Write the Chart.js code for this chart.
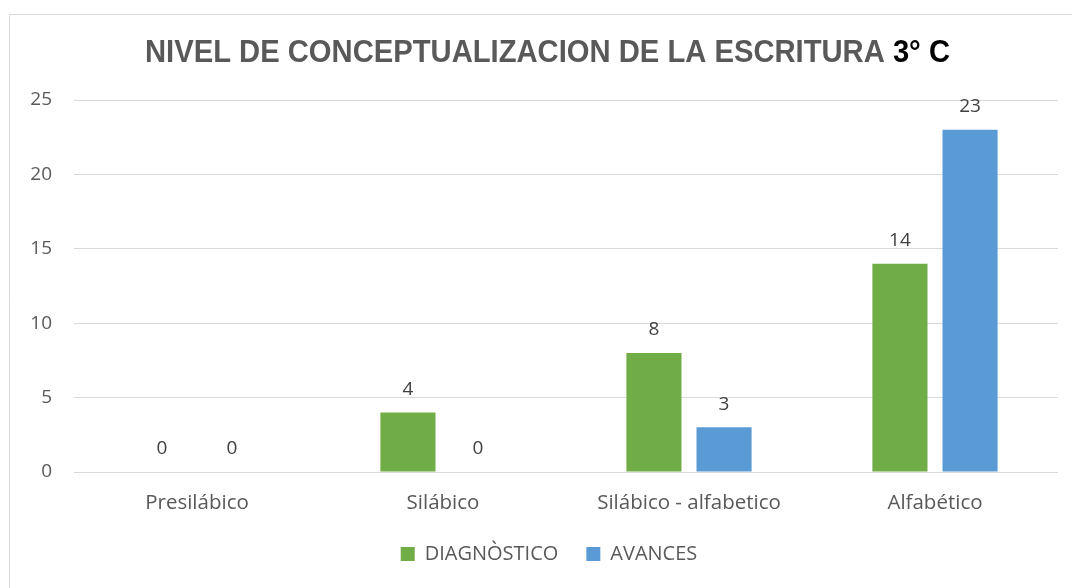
<!DOCTYPE html>
<html>
<head>
<meta charset="utf-8">
<script src="https://cdn.jsdelivr.net/npm/chart.js@4.4.1/dist/chart.umd.min.js"></script>
<style>
  html, body { margin: 0; padding: 0; background: #fff; }
  #wrap { width: 1072px; height: 588px; position: relative; }
</style>
</head>
<body>
<div id="wrap"><canvas id="chart"></canvas></div>
<script>
const categories = ['Presilábico', 'Silábico', 'Silábico - alfabetico', 'Alfabético'];
const diagnostico = [0, 4, 8, 14];
const avances = [0, 0, 3, 23];
const seriesNames = ['DIAGNÒSTICO', 'AVANCES'];
const titleMain = 'NIVEL DE CONCEPTUALIZACION DE LA ESCRITURA ';
const titleBold = '3° C';

const FONT = '"Open Sans", "Noto Sans", sans-serif';
const TEXT = '#595959';

// frame lines (left + top) like the Excel chart box
const framePlugin = {
    id: 'frame',
    beforeDraw(chart) {
        const ctx = chart.ctx;
        ctx.save();
        ctx.strokeStyle = '#d9d9d9';
        ctx.lineWidth = 1;
        ctx.beginPath();
        ctx.moveTo(9.5, chart.height);
        ctx.lineTo(9.5, 14.5);
        ctx.lineTo(chart.width, 14.5);
        ctx.stroke();
        ctx.restore();
    },
};

// the legend in the original is centred on the whole chart box, a bit right of ours
const legendShift = {
    id: 'legendShift',
    afterLayout(chart) {
        if (chart.legend) {
            chart.legend.left += 20;
            chart.legend.right += 20;
        }
    },
};

// two-colour title, squeezed horizontally like the narrow original
const titlePlugin = {
    id: 'twoToneTitle',
    afterDraw(chart) {
        const ctx = chart.ctx;
        ctx.save();
        ctx.font = 'bold 31px "Liberation Sans", Arial, sans-serif';
        ctx.textBaseline = 'middle';
        const w1 = ctx.measureText(titleMain).width;
        const w2 = ctx.measureText(titleBold).width;
        const sx = 805 / (w1 + w2);
        ctx.translate(145, 53);
        ctx.scale(sx, 1);
        ctx.fillStyle = TEXT;
        ctx.fillText(titleMain, 0, 0);
        ctx.fillStyle = '#000';
        ctx.fillText(titleBold, w1, 0);
        ctx.restore();
    },
};

const valueLabels = {
    id: 'valueLabels',
    afterDatasetsDraw(chart) {
        const ctx = chart.ctx;
        ctx.save();
        ctx.font = '19px ' + FONT;
        ctx.fillStyle = '#404040';
        ctx.textAlign = 'center';
        ctx.textBaseline = 'middle';
        chart.data.datasets.forEach((ds, i) => {
            chart.getDatasetMeta(i).data.forEach((bar, j) => {
                ctx.fillText(ds.data[j], bar.x, bar.y - 23);
            });
        });
        ctx.restore();
    },
};

new Chart(document.getElementById('chart'), {
    type: 'bar',
    data: {
        labels: categories,
        datasets: [
            { label: seriesNames[0], data: diagnostico, backgroundColor: '#70ad47' },
            { label: seriesNames[1], data: avances, backgroundColor: '#5b9bd5' },
        ],
    },
    options: {
        responsive: true,
        maintainAspectRatio: false,
        animation: false,
        categoryPercentage: 0.57,
        barPercentage: 0.786,
        layout: { padding: { top: 100, right: 14, left: 0, bottom: 14 } },
        scales: {
            x: {
                grid: { display: false },
                border: { display: false },
                ticks: { color: TEXT, font: { family: FONT, size: 20.5 }, padding: 11 },
                afterFit(scale) { scale.height = 44; },
            },
            y: {
                min: 0,
                max: 25,
                border: { display: false },
                grid: { color: '#d9d9d9', drawTicks: false },
                ticks: { stepSize: 5, color: TEXT, font: { family: FONT, size: 19 }, padding: 22 },
                afterFit(scale) { scale.width = 74; },
            },
        },
        plugins: {
            legend: {
                position: 'bottom',
                labels: {
                    color: TEXT,
                    font: { family: FONT, size: 20 },
                    boxWidth: 14,
                    boxHeight: 14,
                    padding: 28,
                },
            },
            tooltip: { enabled: false },
        },
    },
    plugins: [framePlugin, legendShift, titlePlugin, valueLabels],
});
</script>
</body>
</html>
